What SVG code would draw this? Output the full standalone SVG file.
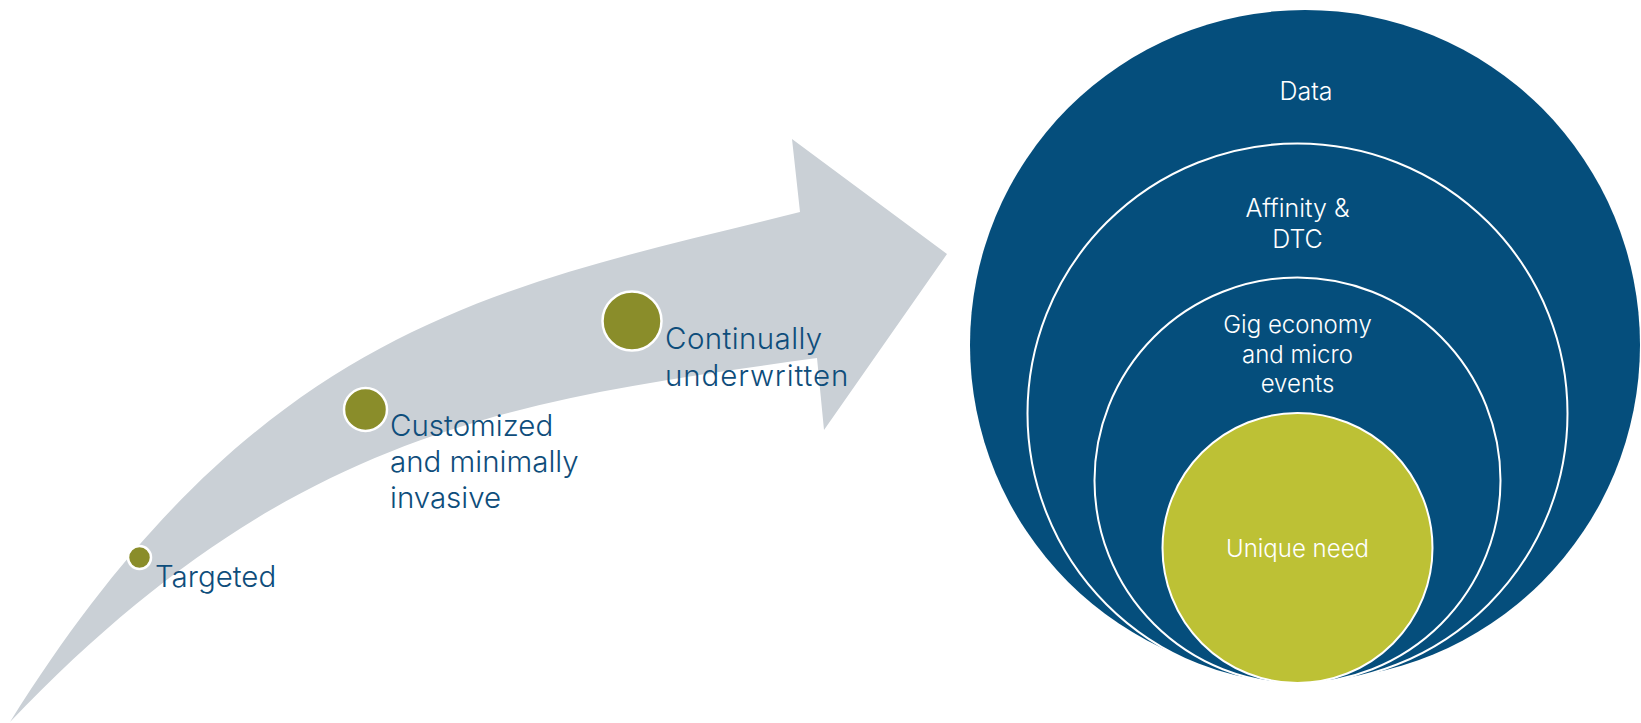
<svg xmlns="http://www.w3.org/2000/svg" width="1641" height="723" viewBox="0 0 1641 723">
  <style>
    .lbl { font-family: Inter, "Open Sans", sans-serif; font-weight: 300; fill: #0E4D7B; font-size: 29.5px; }
    .in { font-family: Inter, "Open Sans", sans-serif; font-weight: 300; fill: #FFFFFF; text-anchor: middle; font-size: 25px; }
    .dot { fill: #8A8D2A; stroke: #FFFFFF; stroke-width: 2.5; }
    .ring { fill: #054E7C; stroke: #FFFFFF; stroke-width: 2; }
  </style>
  <rect width="1641" height="723" fill="#FFFFFF"/>
  <g id="arrow">
    <path d="M10,722 C260,322 500,287 800,212 L792,139 L947,254 L824,430 L817,358 C517,400 290,428 10,722 Z" fill="#CAD0D6"/>
  </g>
  <g id="step-targeted">
    <circle class="dot" cx="139.5" cy="557.5" r="11.5"/>
    <text class="lbl" x="155" y="587">Targeted</text>
  </g>
  <g id="step-customized">
    <circle class="dot" cx="365.5" cy="409.5" r="21.5"/>
    <text class="lbl" x="390" y="436">Customized</text>
    <text class="lbl" x="390" y="472">and minimally</text>
    <text class="lbl" x="390" y="507.5">invasive</text>
  </g>
  <g id="step-continually">
    <circle class="dot" cx="632" cy="321" r="29.5"/>
    <text class="lbl" x="665" y="349" style="letter-spacing:0.4px">Continually</text>
    <text class="lbl" x="665" y="386" style="letter-spacing:0.9px">underwritten</text>
  </g>
  <g id="data">
    <circle cx="1305" cy="345" r="335" fill="#054E7C"/>
    <text class="in" x="1306" y="100">Data</text>
  </g>
  <g id="affinity">
    <circle class="ring" cx="1297.5" cy="413.5" r="270"/>
    <text class="in" x="1297.5" y="217">Affinity &amp;</text>
    <text class="in" x="1297.5" y="248">DTC</text>
  </g>
  <g id="gig">
    <circle class="ring" cx="1297.5" cy="480.5" r="203"/>
    <text class="in" x="1297.5" y="333" style="font-size:24px">Gig economy</text>
    <text class="in" x="1297.5" y="362.5" style="font-size:24px">and micro</text>
    <text class="in" x="1297.5" y="392" style="font-size:24px">events</text>
  </g>
  <g id="unique">
    <circle cx="1297.5" cy="548" r="135" fill="#BDC135" stroke="#FFFFFF" stroke-width="2"/>
    <text class="in" x="1297.5" y="557" style="font-size:24px">Unique need</text>
  </g>
  <g id="connectors"></g>
</svg>
